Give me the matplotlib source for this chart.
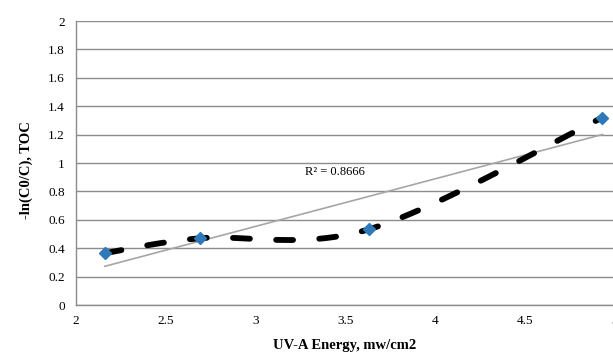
import numpy as np
import matplotlib
matplotlib.use("Agg")
import matplotlib.pyplot as plt

# data
energy = [2.16, 2.69, 3.63, 4.93]
toc = [0.365, 0.47, 0.533, 1.32]
x_ticks = [2, 2.5, 3, 3.5, 4, 4.5, 5]
x_tick_labels = ["2", "2.5", "3", "3.5", "4", "4.5", "5"]
y_ticks = [0, 0.2, 0.4, 0.6, 0.8, 1, 1.2, 1.4, 1.6, 1.8, 2]
y_tick_labels = ["0", "0.2", "0.4", "0.6", "0.8", "1", "1.2", "1.4", "1.6", "1.8", "2"]


def smooth_curve(xs, ys, n=40):
    # Excel-like smoothed line (Catmull-Rom Bezier)
    xs = np.asarray(xs, float)
    ys = np.asarray(ys, float)
    pts = np.column_stack([xs, ys])
    out = []
    for i in range(len(pts) - 1):
        p0 = pts[i - 1] if i > 0 else pts[i]
        p1 = pts[i]
        p2 = pts[i + 1]
        p3 = pts[i + 2] if i + 2 < len(pts) else pts[i + 1]
        c1 = p1 + (p2 - p0) / 6.0
        c2 = p2 - (p3 - p1) / 6.0
        t = np.linspace(0, 1, n)[:, None]
        seg = ((1 - t) ** 3) * p1 + 3 * ((1 - t) ** 2) * t * c1 + 3 * (1 - t) * t ** 2 * c2 + t ** 3 * p2
        out.append(seg if i == 0 else seg[1:])
    out = np.vstack(out)
    return out[:, 0], out[:, 1]


fig = plt.figure(figsize=(6.13, 3.56), dpi=100)
ax = fig.add_axes([76 / 613, 1 - 305 / 356, (615 - 76) / 613, (305 - 21) / 356])

serif = ["Liberation Serif", "DejaVu Serif"]

for yt in y_ticks:
    ax.axhline(yt, color="#8c8c8c", lw=1.0, zorder=1)

# trendline
coef = np.polyfit(energy, toc, 1)
tx = np.array([min(energy), max(energy)])
ax.plot(tx, np.polyval(coef, tx), color="#a6a6a6", lw=1.2, zorder=2)

sx, sy = smooth_curve(energy, toc)
ax.plot(sx, sy, color="black", lw=4.2, ls=(0, (2.9, 4.5)),
        dash_capstyle="round", zorder=3)
ax.plot(energy, toc, ls="none", marker="D", ms=6, color="#2e7ab8", zorder=4)

ax.text(3.44, 0.94, "R² = 0.8666", fontsize=9, family=serif, ha="center", va="center")

ax.set_xlim(2, 5)
ax.set_ylim(0, 2)
ax.set_xticks(x_ticks)
ax.set_xticklabels(x_tick_labels, family=serif, fontsize=9.5)
ax.set_yticks(y_ticks)
ax.set_yticklabels(y_tick_labels, family=serif, fontsize=9.5)
ax.tick_params(length=0, pad=8)
ax.tick_params(axis="x", pad=7)
for s in ["top", "right"]:
    ax.spines[s].set_visible(False)
for s in ["left", "bottom"]:
    ax.spines[s].set_color("#8c8c8c")
    ax.spines[s].set_linewidth(1.0)

fig.text(345 / 613, 1 - 346 / 356, "UV-A Energy, mw/cm2", family=serif, fontsize=10.5,
         fontweight="bold", ha="center", va="center")
fig.text(26 / 613, 1 - 170 / 356, "-ln(C0/C), TOC", family=serif, fontsize=10.5,
         fontweight="bold", ha="center", va="center", rotation=90)

fig.savefig("out.png", dpi=100)
